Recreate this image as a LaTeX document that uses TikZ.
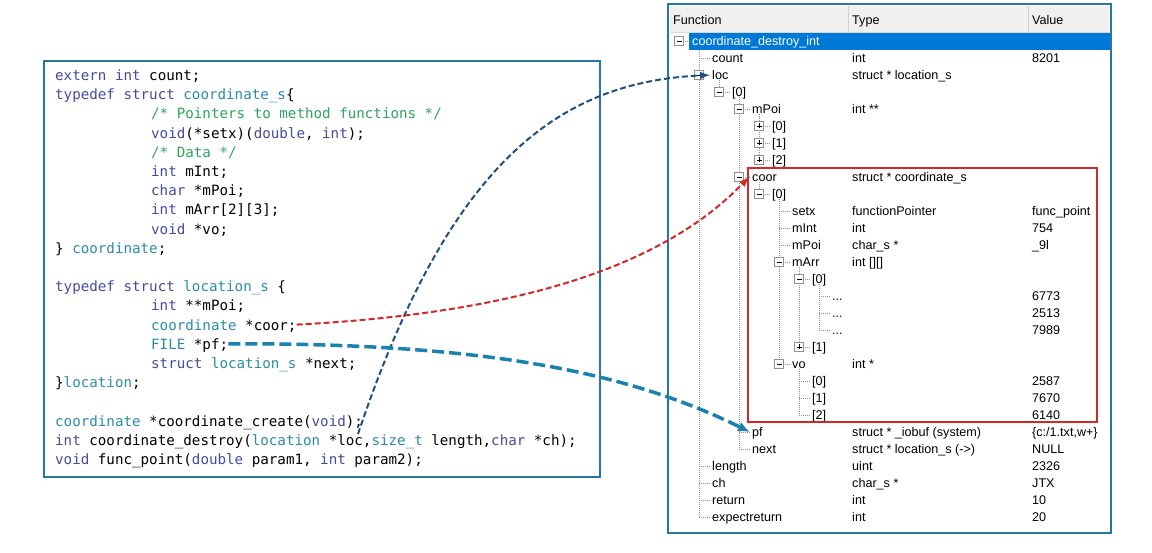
\documentclass[tikz,border=0pt]{standalone}
\usepackage{fontspec}
\setmonofont{DejaVu Sans Mono}
\newfontfamily\treefont{Liberation Sans}
\usetikzlibrary{arrows.meta}

\definecolor{kwblue}{RGB}{70,75,160}
\definecolor{tyteal}{RGB}{43,140,170}
\definecolor{cmgreen}{RGB}{45,165,95}
\definecolor{frameblue}{RGB}{40,118,160}
\definecolor{locblue}{RGB}{30,80,130}
\definecolor{pfteal}{RGB}{25,130,175}
\definecolor{coorred}{RGB}{210,40,40}
\definecolor{selblue}{RGB}{0,120,215}
\definecolor{boxgray}{RGB}{145,145,145}

\newcommand{\kw}[1]{\textcolor{kwblue}{#1}}
\newcommand{\ty}[1]{\textcolor{tyteal}{#1}}
\newcommand{\cm}[1]{\textcolor{cmgreen}{#1}}

\tikzset{
  codeline/.style={anchor=west, inner sep=0pt, text height=11pt, text depth=0pt,
    font={\ttfamily\fontsize{14.2}{17}\selectfont}},
  codebox/.style={draw=frameblue, line width=2.2pt},
  panel/.style={draw=frameblue, line width=2.2pt},
  redbox/.style={draw=coorred, line width=2pt},
  treetext/.style={anchor=west, inner sep=0pt, text height=9pt, text depth=0pt,
    font={\treefont\fontsize{12.6}{14}\selectfont}},
  treeline/.style={draw=boxgray, line width=0.6pt, dash pattern=on 1pt off 1pt},
  expbox/.style={draw=boxgray, fill=white, minimum size=9pt, inner sep=0pt, line width=0.6pt},
  locarrow/.style={draw=locblue, line width=2pt, dash pattern=on 6pt off 3pt,
    -{Latex[length=10pt,width=8pt]}},
  coorarrow/.style={draw=coorred, line width=2pt, dash pattern=on 6pt off 3pt,
    -{Latex[length=10pt,width=8pt]}},
  pfarrow/.style={draw=pfteal, line width=3.5pt, dash pattern=on 12pt off 5pt,
    -{Latex[length=12pt,width=10pt]}}
}

% one row of the watch tree: row, level, name, type, value, kind (0 leaf, 1 minus, 2 plus)
\newcommand{\treerow}[6]{%
  \pgfmathsetmacro{\ry}{41+17*#1}%
  \pgfmathsetmacro{\tx}{712+20*(#2-1)}%
  \pgfmathsetmacro{\bx}{\tx-13}%
  \draw[treeline] (\bx,\ry) -- (\tx-1,\ry);
  \ifcase#6\or
    \node[expbox] (b#1) at (\bx,\ry) {};
    \draw[line width=0.8pt] (\bx-2.5,\ry) -- (\bx+2.5,\ry);
  \or
    \node[expbox] (b#1) at (\bx,\ry) {};
    \draw[line width=0.8pt] (\bx-2.5,\ry) -- (\bx+2.5,\ry) (\bx,\ry-2.5) -- (\bx,\ry+2.5);
  \fi
  \node[treetext] (n#1) at (\tx,\ry) {#3};
  \node[treetext] (t#1) at (852,\ry) {#4};
  \node[treetext] (v#1) at (1032,\ry) {#5};
}

\begin{document}
\begin{tikzpicture}[x=1pt,y=-1pt]
  \fill[white] (0,0) rectangle (1152,553);
  \useasboundingbox (0,0) rectangle (1152,553);

  % source code
  \draw[codebox] (44,61) rectangle (600,477);
  \node[codeline] (c1) at (55,75) {\kw{extern} \kw{int} count;};
  \node[codeline] (c2) at (55,94.2) {\kw{typedef} \kw{struct} \ty{coordinate\_s}\{};
  \node[codeline] (c3) at (151,113.4) {\cm{/* Pointers to method functions */}};
  \node[codeline] (c4) at (151,132.6) {\kw{void}(*setx)(\kw{double}, \kw{int});};
  \node[codeline] (c5) at (151,151.8) {\cm{/* Data */}};
  \node[codeline] (c6) at (151,171) {\kw{int} mInt;};
  \node[codeline] (c7) at (151,190.2) {\kw{char} *mPoi;};
  \node[codeline] (c8) at (151,209.4) {\kw{int} mArr[2][3];};
  \node[codeline] (c9) at (151,228.6) {\kw{void} *vo;};
  \node[codeline] (c10) at (55,247.8) {\} \ty{coordinate};};
  \node[codeline] (c12) at (55,286.2) {\kw{typedef} \kw{struct} \ty{location\_s} \{};
  \node[codeline] (c13) at (151,305.4) {\kw{int} **mPoi;};
  \node[codeline] (c14) at (151,324.6) {\ty{coordinate} *coor;};
  \node[codeline] (c15) at (151,343.8) {\ty{FILE} *pf;};
  \node[codeline] (c16) at (151,363) {\kw{struct} \ty{location\_s} *next;};
  \node[codeline] (c17) at (55,382.2) {\}\ty{location};};
  \node[codeline] (c19) at (55,420.6) {\ty{coordinate} *coordinate\_create(\kw{void});};
  \node[codeline] (c20) at (55,439.8) {\kw{int} coordinate\_destroy(\ty{location} *loc,\ty{size\_t} length,\kw{char} *ch);};
  \node[codeline] (c21) at (55,459) {\kw{void} func\_point(\kw{double} param1, \kw{int} param2);};
  \coordinate (locarg) at (358,434);

  % watch panel
  \fill[black!6] (670,6) rectangle (1109,32);
  \draw[black!15] (670,32) -- (1109,32);
  \draw[black!18] (848,6) -- (848,32) (1028,6) -- (1028,32);
  \node[treetext] (hf) at (673,20) {Function};
  \node[treetext] (ht) at (852,20) {Type};
  \node[treetext] (hv) at (1032,20) {Value};
  \fill[selblue] (689,33) rectangle (1110,50);

  \foreach \x/\ya/\yb in {699/50/517, 719/80/92, 739/97/449, 759/114/160, 759/182/194,
      779/199/364, 799/267/347, 799/369/415, 819/284/330}
    \draw[treeline] (\x,\ya) -- (\x,\yb);
  \draw[treeline] (679,41) -- (689,41);
  \node[expbox] (b0) at (679,41) {};
  \draw[line width=0.8pt] (676.5,41) -- (681.5,41);
  \node[treetext, text=white] (n0) at (692,41) {coordinate\_destroy\_int};

  \treerow{1}{1}{count}{int}{8201}{0}
  \treerow{2}{1}{loc}{struct * location\_s}{}{1}
  \treerow{3}{2}{[0]}{}{}{1}
  \treerow{4}{3}{mPoi}{int **}{}{1}
  \treerow{5}{4}{[0]}{}{}{2}
  \treerow{6}{4}{[1]}{}{}{2}
  \treerow{7}{4}{[2]}{}{}{2}
  \treerow{8}{3}{coor}{struct * coordinate\_s}{}{1}
  \treerow{9}{4}{[0]}{}{}{1}
  \treerow{10}{5}{setx}{functionPointer}{func\_point}{0}
  \treerow{11}{5}{mInt}{int}{754}{0}
  \treerow{12}{5}{mPoi}{char\_s *}{\_9l}{0}
  \treerow{13}{5}{mArr}{int [][]}{}{1}
  \treerow{14}{6}{[0]}{}{}{1}
  \treerow{15}{7}{...}{}{6773}{0}
  \treerow{16}{7}{...}{}{2513}{0}
  \treerow{17}{7}{...}{}{7989}{0}
  \treerow{18}{6}{[1]}{}{}{2}
  \treerow{19}{5}{vo}{int *}{}{1}
  \treerow{20}{6}{[0]}{}{2587}{0}
  \treerow{21}{6}{[1]}{}{7670}{0}
  \treerow{22}{6}{[2]}{}{6140}{0}
  \treerow{23}{3}{pf}{struct * \_iobuf (system)}{\{c:/1.txt,w+\}}{0}
  \treerow{24}{3}{next}{struct * location\_s (->)}{NULL}{0}
  \treerow{25}{1}{length}{uint}{2326}{0}
  \treerow{26}{1}{ch}{char\_s *}{JTX}{0}
  \treerow{27}{1}{return}{int}{10}{0}
  \treerow{28}{1}{expectreturn}{int}{20}{0}

  \draw[redbox] (748,168) rectangle (1097,422);
  \draw[panel] (668,4) rectangle (1111,533);

  % links from the code to the tree
  \draw[locarrow] (locarg) .. controls (450,160) and (560,82) .. ([xshift=-2pt]n2.west);
  \draw[coorarrow] (c14.east) .. controls (480,315) and (650,280) .. ([xshift=-3pt]n8.west);
  \draw[pfarrow] (c15.east) .. controls (470,343) and (620,368) .. ([xshift=-2pt]n23.west);
\end{tikzpicture}
\end{document}
